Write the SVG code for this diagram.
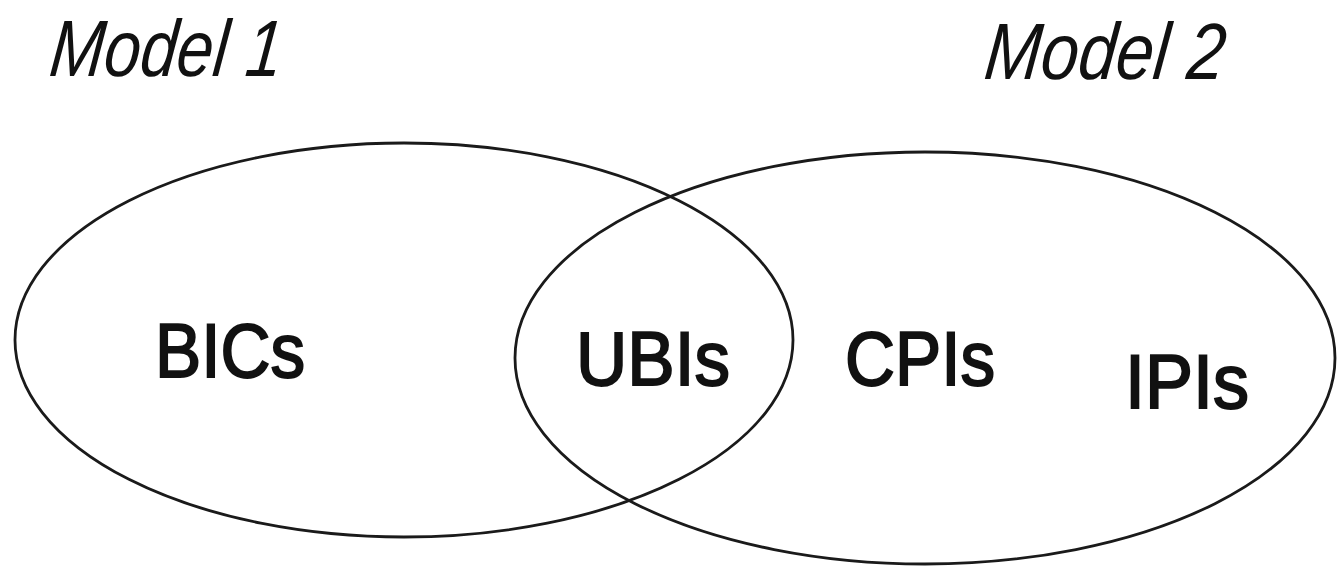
<svg xmlns="http://www.w3.org/2000/svg" width="1337" height="569" viewBox="0 0 1337 569">
<style>
.set{fill:none;stroke:#1a1a1a;stroke-width:2.8}
.lbl{font-family:"Liberation Sans",Arial,sans-serif;font-size:76px;fill:#111;stroke:#111;stroke-width:2}
.title{font-family:"Liberation Sans",Arial,sans-serif;font-style:italic;font-size:80px;fill:#111}
</style>
<rect width="1337" height="569" fill="#fff"/>
<g id="model1">
<ellipse class="set" cx="404" cy="340" rx="389" ry="197"/>
<text class="title" x="48" y="76" textLength="232" lengthAdjust="spacingAndGlyphs" transform="skewX(-6) translate(8 0)">Model 1</text>
</g>
<g id="model2">
<ellipse class="set" cx="925" cy="358" rx="410" ry="206"/>
<text class="title" x="983" y="79" textLength="240" lengthAdjust="spacingAndGlyphs" transform="skewX(-6) translate(8 0)">Model 2</text>
</g>
<g id="connectors"></g>
<g id="bics"><text class="lbl" x="155" y="377" textLength="150" lengthAdjust="spacingAndGlyphs">BICs</text></g>
<g id="ubis"><text class="lbl" x="576" y="385" textLength="154" lengthAdjust="spacingAndGlyphs">UBIs</text></g>
<g id="cpis"><text class="lbl" x="845" y="385" textLength="150" lengthAdjust="spacingAndGlyphs">CPIs</text></g>
<g id="ipis"><text class="lbl" x="1125" y="408" textLength="124" lengthAdjust="spacingAndGlyphs">IPIs</text></g>
</svg>
